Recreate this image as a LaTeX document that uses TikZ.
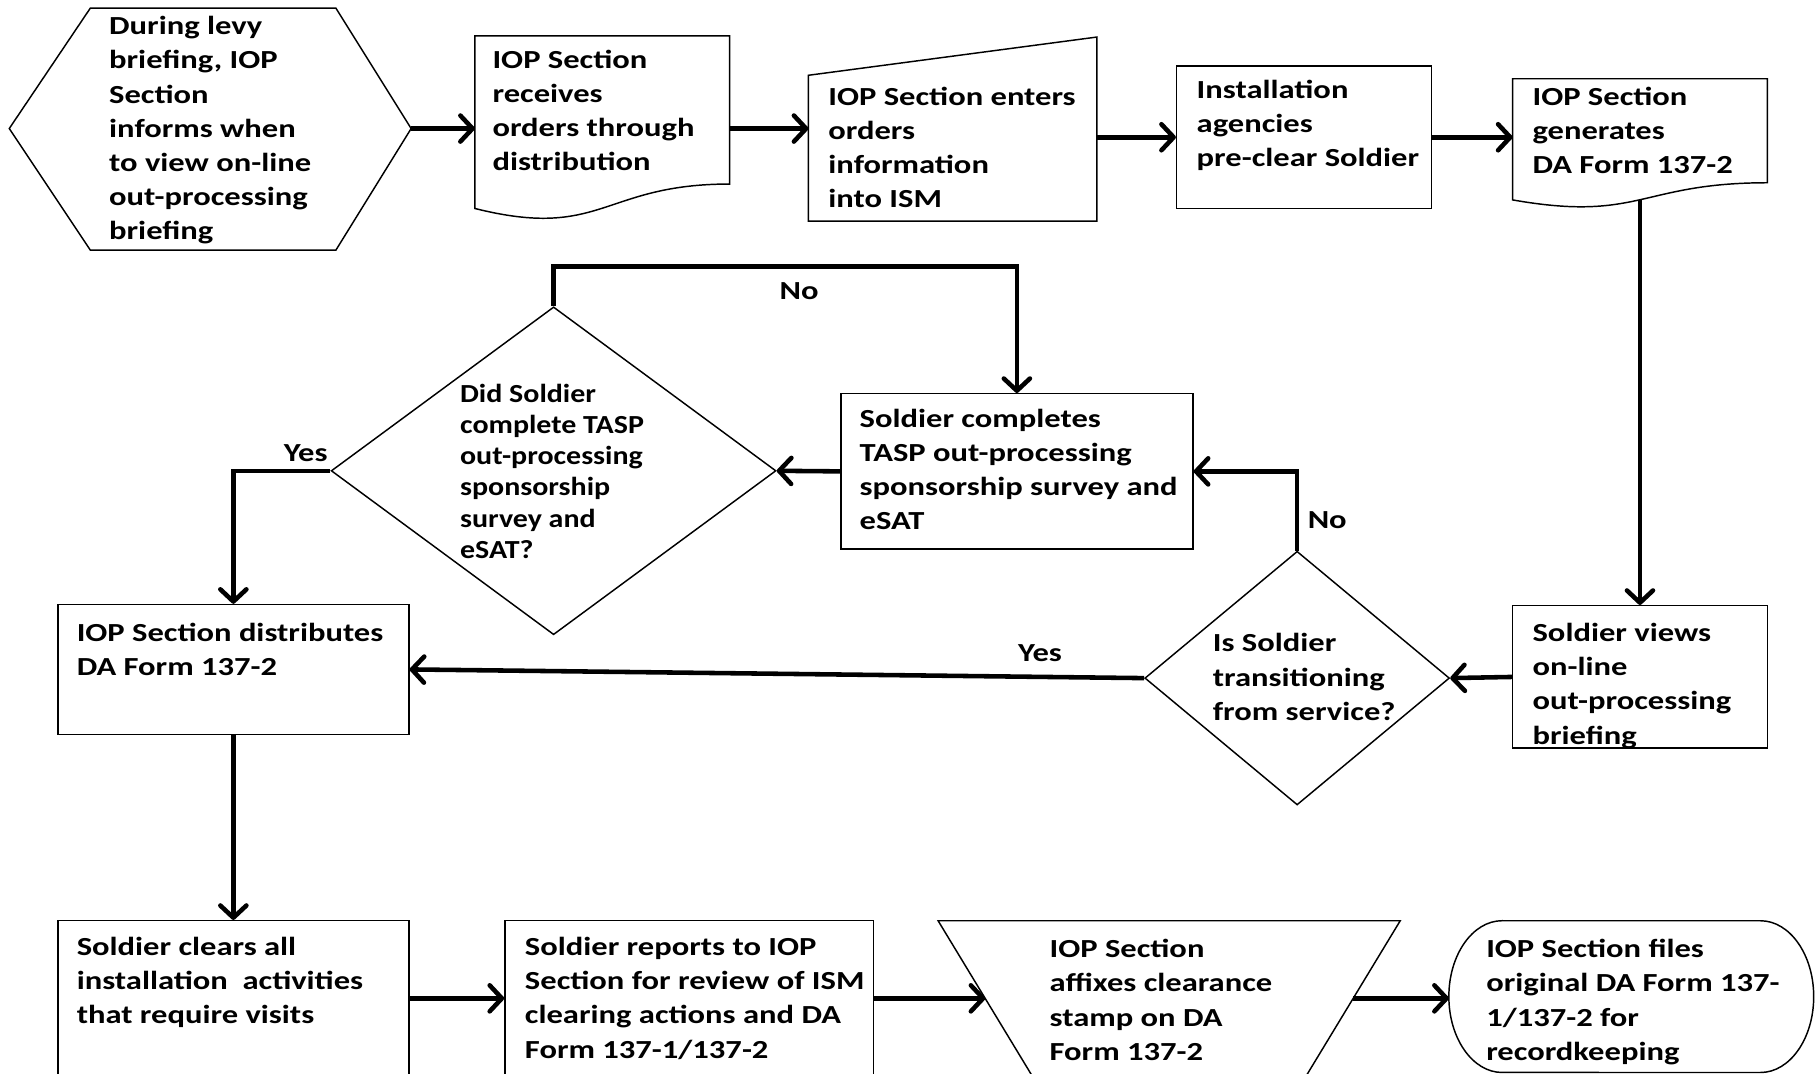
\documentclass[tikz,border=0pt]{standalone}
\usepackage{fontspec}
\setmainfont{Carlito}[FakeStretch=1.25]
\newfontfamily\dfont{Carlito}[FakeStretch=1.15]
\usetikzlibrary{arrows.meta,shapes.geometric}
\tikzset{
  shp/.style={draw, line width=0.9pt, fill=white},
  box/.style={shp, rectangle, inner sep=0pt},
  dia/.style={shp, diamond, inner sep=0pt},
  conn/.style={line width=2.8pt, -{Straight Barb[length=7.5pt,width=16pt,round]}},
  txt/.style={anchor=north west, inner sep=0pt, align=left, font=\fontsize{16}{21}\selectfont\bfseries},
  dtxt/.style={anchor=north west, inner sep=0pt, align=left, font=\dfont\fontsize{16}{19.2}\selectfont\bfseries},
  lbl/.style={inner sep=0pt, font=\fontsize{16}{21}\selectfont\bfseries}
}
\begin{document}
\begin{tikzpicture}[x=0.025cm, y=-0.025cm]
\useasboundingbox (0,0) rectangle (1568,927);
\fill[white] (0,0) rectangle (1568,927);
\begin{scope}
\clip (0,0) rectangle (1568,927);
% shapes
\draw[shp] (8,111) -- (78,7) -- (290,7) -- (355,111) -- (290,216) -- (78,216) -- cycle;
\coordinate (h1e) at (355,111);
\draw[shp] (410,31) -- (630,31) -- (630,158.9) .. controls (520,158.9) and (520,207.6) .. (410,180) -- cycle;
\coordinate (d2w) at (410,111);
\coordinate (d2e) at (630,111);
\draw[shp] (698,65) -- (947,32) -- (947,191) -- (698,191) -- cycle;
\coordinate (m3w) at (698,111);
\coordinate (m3e) at (947,118.5);
\node[box, minimum width=5.5cm, minimum height=3.075cm] (b4) at (1126,118.5) {};
\draw[shp] (1306,68) -- (1526,68) -- (1526,157.8) .. controls (1416,157.8) and (1416,192) .. (1306,172.6) -- cycle;
\coordinate (d5w) at (1306,118.5);
\coordinate (d5s) at (1416,172.5);
\node[box, minimum width=5.5cm, minimum height=3.075cm] (b6) at (1416,584.5) {};
\node[dia, minimum width=6.575cm, minimum height=5.475cm] (q7) at (1120,585.5) {};
\node[box, minimum width=7.575cm, minimum height=2.8cm] (b8) at (201.5,578) {};
\node[box, minimum width=7.6cm, minimum height=3.35cm] (b9) at (878,407) {};
\node[dia, minimum width=9.6cm, minimum height=7.075cm] (q10) at (478,406.5) {};
\node[box, minimum width=7.575cm, minimum height=4.125cm] (b11) at (201.5,877.5) {};
\node[box, minimum width=7.95cm, minimum height=4.125cm] (b12) at (595,877.5) {};
\draw[shp] (810,795) -- (1209,795) -- (1109,960) -- (910,960) -- cycle;
\coordinate (t13w) at (850.8,862);
\coordinate (t13e) at (1168.2,862);
\draw[shp] (1297,795) -- (1520,795) arc[start angle=90, end angle=-90, x radius=1.15cm, y radius=1.6375cm]
  -- (1297,926) arc[start angle=270, end angle=90, x radius=1.15cm, y radius=1.6375cm] -- cycle;
\coordinate (r14w) at (1251,862);
\coordinate (c10) at (478,230);
\coordinate (a11) at (353,862);
\coordinate (a12) at (754,862);
% connectors
\draw[conn] (h1e) -- (d2w);
\draw[conn] (d2e) -- (m3w);
\draw[conn] (m3e) -- (b4.west);
\draw[conn] (b4.east) -- (d5w);
\draw[conn] (d5s) -- (b6.north);
\draw[conn] (b6.west) -- (q7.east);
\draw[conn] (q7.west) -- (b8.east);
\draw[conn] (q7.north) |- (b9.east);
\draw[conn] (b9.west) -- (q10.east);
\draw[conn] (q10.north) -- (c10) -| (b9.north);
\draw[conn] (q10.west) -| (b8.north);
\draw[conn] (b8.south) -- (b11.north);
\draw[conn] (a11) -- (a11 -| b12.west);
\draw[conn] (a12) -- (t13w);
\draw[conn] (t13e) -- (r14w);
% texts
\node[txt] (t1) at (94,9) {\strut During levy\\briefing, IOP\\Section\\informs when\\to view on-line\\out-processing\\briefing};
\node[txt] (t2) at (425,38) {\strut IOP Section\\receives\\orders through\\distribution};
\node[txt] (t3) at (715,70) {\strut IOP Section enters\\orders\\information\\into ISM};
\node[txt] (t4) at (1033,64) {\strut Installation\\agencies\\pre-clear Soldier};
\node[txt] (t5) at (1323,70) {\strut IOP Section\\generates\\DA Form 137-2};
\node[txt] (t6) at (1323,533) {\strut Soldier views\\on-line\\out-processing\\briefing};
\node[txt] (t7) at (1047,542) {\strut Is Soldier\\transitioning\\from service?};
\node[txt] (t8) at (66,533) {\strut IOP Section distributes\\DA Form 137-2};
\node[txt] (t9) at (742,348) {\strut Soldier completes\\TASP out-processing\\sponsorship survey and\\eSAT};
\node[dtxt] (t10) at (397,328) {\strut Did Soldier\\complete TASP\\out-processing\\sponsorship\\survey and\\eSAT?};
\node[txt] (t11) at (66,804) {\strut Soldier clears all\\installation\ \ activities\\that require visits};
\node[txt] (t12) at (453,804) {\strut Soldier reports to IOP\\Section for review of ISM\\clearing actions and DA\\Form 137-1/137-2};
\node[txt] (t13) at (906,806) {\strut IOP Section\\affixes clearance\\stamp on DA\\Form 137-2};
\node[txt] (t14) at (1283,806) {\strut IOP Section files\\original DA Form 137-\\1/137-2 for\\recordkeeping};
% labels
\node[lbl] (l1) at (690,251) {No};
\node[lbl] (l2) at (264,391) {Yes};
\node[lbl] (l3) at (1146,449) {No};
\node[lbl] (l4) at (898,564) {Yes};
\end{scope}
\end{tikzpicture}
\end{document}
